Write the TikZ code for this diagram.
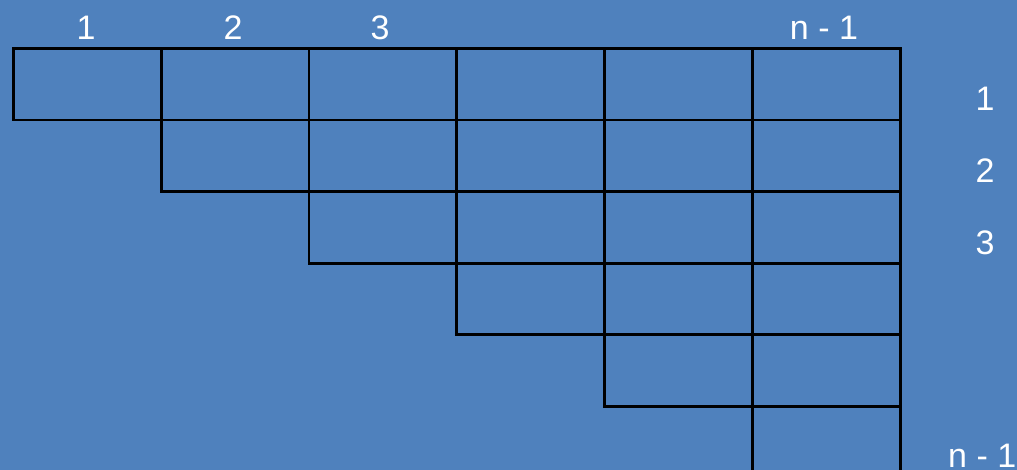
\documentclass[tikz,border=0pt]{standalone}
\usepackage{fontspec}
\setmainfont{Liberation Sans}
\definecolor{bg}{HTML}{4F81BD}
\begin{document}
\begin{tikzpicture}[x=1pt,y=-1pt,
  cell/.style={draw=black,line width=2.8pt,rectangle,minimum width=147.8pt,minimum height=71.6pt,inner sep=0pt,anchor=north west},
  lab/.style={text=white,font=\fontsize{34}{36}\selectfont,inner sep=0pt}]
\fill[bg] (0,0) rectangle (1017,470);
\useasboundingbox (0,0) rectangle (1017,470);
\clip (0,0) rectangle (1017,470);
\foreach \r in {0,...,5}{
  \foreach \c in {\r,...,5}{
    \node[cell] (c\r\c) at ({12+147.8*\c},{47+71.6*\r}) {};
  }
}
\node[lab] (t1) at (86,28) {1};
\node[lab] (t2) at (233,28) {2};
\node[lab] (t3) at (380,28) {3};
\node[lab] (tn) at (824,28) {n - 1};
\node[lab] (r1) at (985,99) {1};
\node[lab] (r2) at (985,171) {2};
\node[lab] (r3) at (985,243) {3};
\node[lab,anchor=west] (rn) at (948,456) {n - 1};
\end{tikzpicture}
\end{document}
